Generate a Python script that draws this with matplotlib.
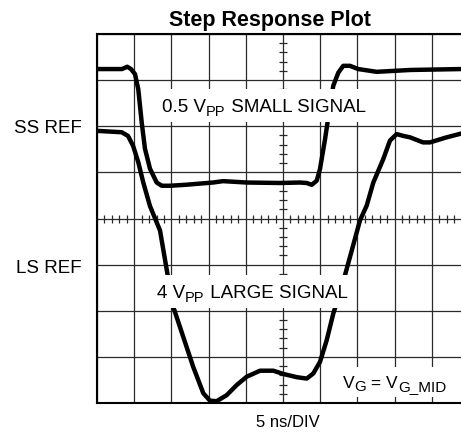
import matplotlib
matplotlib.use("Agg")
import matplotlib.pyplot as plt
from matplotlib.patches import Rectangle
import numpy as np

plt.rcParams['font.family'] = ['Liberation Sans', 'DejaVu Sans']

# time axis in ns (5 ns per division), levels in screen divisions
ss_t = [0, 1.75, 3.36, 4.07, 4.57, 5.11, 5.55, 6.01, 6.45, 7.12, 8.02, 8.70,
        9.81, 11.83, 15.59, 16.94, 20.12, 24.6, 27.28, 28.19, 28.86, 29.53,
        29.97, 30.65, 31.32, 31.76, 32.43, 33.1, 34.0, 35.12, 37.59, 42.07,
        48.92, 50]
ss_v = [7.24, 7.24, 7.24, 7.29, 7.24, 7.13, 6.80, 6.08, 5.51, 5.08, 4.78, 4.71,
        4.71, 4.73, 4.78, 4.81, 4.78, 4.77, 4.78, 4.77, 4.73, 4.82,
        5.07, 5.72, 6.44, 6.88, 7.16, 7.31, 7.31, 7.24, 7.18, 7.22,
        7.24, 7.24]

ls_t = [0, 3.32, 4.17, 4.84, 5.55, 6.22, 7.12, 8.47, 9.54, 10.26, 11.6, 12.94,
        14.29, 15.19, 16.09, 17.43, 18.78, 20.12, 21.91, 23.7, 25.04, 26.84,
        28.19, 29.07, 29.97, 30.87, 31.76, 32.89, 35.35, 36.25, 37.14, 38.48,
        39.38, 40.28, 41.17, 42.07, 43.82, 44.76, 47.0, 48.92, 50]
ls_v = [5.90, 5.87, 5.79, 5.58, 5.22, 4.78, 4.27, 3.74, 2.73, 2.08, 1.43, 0.78,
        0.21, 0.05, 0.04, 0.17, 0.39, 0.57, 0.70, 0.70, 0.63, 0.56,
        0.53, 0.64, 0.89, 1.36, 1.94, 2.51, 3.96, 4.28, 4.78, 5.29,
        5.69, 5.83, 5.79, 5.76, 5.65, 5.65, 5.76, 5.84, 5.87]

ns_per_div = 5
n_xdiv = 10
n_ydiv = 8

W, H = 461, 438
fig = plt.figure(figsize=(W / 100, H / 100), dpi=100)
renderer = fig.canvas.get_renderer()

# screen is wider than the figure, so the right edge runs off the page
ax = fig.add_axes([97 / W, 35 / H, 372 / W, 369 / H])
ax.set_xlim(0, ns_per_div * n_xdiv)
ax.set_ylim(0, n_ydiv)

ax.set_xticks(np.arange(0, ns_per_div * n_xdiv + 1, ns_per_div))
ax.set_yticks(np.arange(0, n_ydiv + 1, 1))
ax.tick_params(length=0, labelbottom=False, labelleft=False)
ax.grid(True, color='#2a2a2a', lw=0.9)
ax.set_axisbelow(True)
for side in ['top', 'left', 'bottom']:
    ax.spines[side].set_linewidth(1.5)
ax.spines['right'].set_visible(False)

# minor graticule marks along the centre lines
xc = ns_per_div * n_xdiv / 2
yc = n_ydiv / 2
ym = [y for y in np.arange(0, n_ydiv, 0.2) if abs(y - round(y)) > 1e-6]
xm = [x for x in np.arange(0, ns_per_div * n_xdiv, 1.0) if x % ns_per_div]
ax.plot([xc] * len(ym), ym, ls='none', marker='_', ms=6, mew=0.9, color='#2a2a2a', zorder=1)
ax.plot(xm, [yc] * len(xm), ls='none', marker='|', ms=6, mew=0.9, color='#2a2a2a', zorder=1)

ax.plot(ss_t, ss_v, color='black', lw=3.2, solid_joinstyle='round', solid_capstyle='round', zorder=3)
ax.plot(ls_t, ls_v, color='black', lw=3.2, solid_joinstyle='round', solid_capstyle='round', zorder=3)


def label_runs(x, y, parts, size=13.5, sub=10.5, drop=4, padx=4, pady=10):
    """Write text runs left to right from pixel (x, y baseline, measured from top).
    Each part is (text, is_subscript). A white box is put behind the whole label."""
    cx = x
    for s, is_sub in parts:
        fsz = sub if is_sub else size
        yy = y + (drop if is_sub else 0)
        t = fig.text(cx / W, 1 - yy / H, s, fontsize=fsz, ha='left', va='baseline', zorder=6)
        bb = t.get_window_extent(renderer)
        cx += bb.width
    cap = size * 100 / 72 * 0.716
    fig.add_artist(Rectangle(((x - padx) / W, 1 - (y + pady) / H),
                             (cx - x + 2 * padx) / W, (cap + 2 * pady) / H,
                             transform=fig.transFigure, facecolor='white',
                             edgecolor='none', zorder=5))


label_runs(162, 112, [('0.5 V', False), ('PP', True), (' SMALL SIGNAL', False)])
label_runs(157, 298, [('4 V', False), ('PP', True), (' LARGE SIGNAL', False)])
label_runs(343, 388, [('V', False), ('G', True), (' = V', False), ('G_MID', True)],
           size=12.5, sub=11, drop=3, pady=9)

fig.text(82 / W, 1 - 133 / H, 'SS REF', fontsize=13.5, ha='right', va='baseline')
fig.text(82 / W, 1 - 273 / H, 'LS REF', fontsize=13.5, ha='right', va='baseline')
fig.text(288 / W, 1 - 427 / H, '5 ns/DIV', fontsize=12, ha='center', va='baseline')
fig.text(270 / W, 1 - 26 / H, 'Step Response Plot', fontsize=15.5, fontweight='bold',
         ha='center', va='baseline')

fig.savefig('out.png', dpi=100)
